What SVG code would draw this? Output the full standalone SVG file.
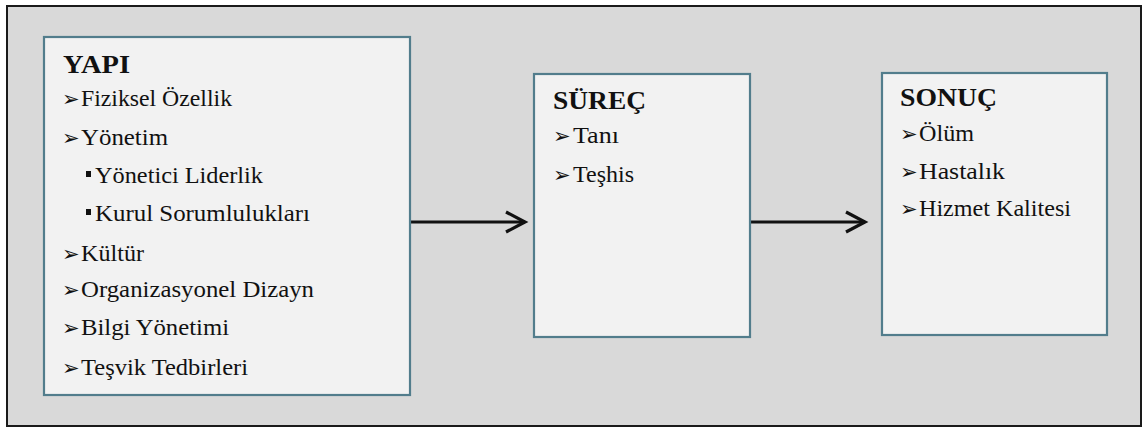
<svg xmlns="http://www.w3.org/2000/svg" width="1145" height="428" viewBox="0 0 1145 428">
  <style>
    .frame { fill: #d9d9d9; stroke: #1a1a1a; stroke-width: 2; }
    .box { fill: #f2f2f2; stroke: #527d8c; stroke-width: 2.2; }
    .head { font-family: "Liberation Serif", "Times New Roman", serif; font-weight: bold; font-size: 26px; fill: #111; }
    .item { font-family: "Liberation Serif", "Times New Roman", serif; font-size: 24px; fill: #111; }
    .arr { font-family: "DejaVu Sans", sans-serif; font-size: 21px; fill: #111; }
    .sq { fill: #111; }
    .conn { stroke: #111; stroke-width: 3; fill: none; }
  </style>
  <defs>
    <marker id="chevron" markerUnits="userSpaceOnUse" markerWidth="26" markerHeight="26" refX="21" refY="12" orient="auto">
      <path d="M2,2 L21,12 L2,22" fill="none" stroke="#111" stroke-width="3.2" stroke-linejoin="miter"/>
    </marker>
  </defs>

  <!-- background panel -->
  <rect x="0" y="0" width="1145" height="428" fill="#ffffff"/>
  <rect class="frame" x="7" y="6" width="1134" height="420"/>

  <!-- connectors -->
  <g id="connectors">
    <line class="conn" x1="410" y1="222" x2="525" y2="222" marker-end="url(#chevron)"/>
    <line class="conn" x1="750" y1="222" x2="865" y2="222" marker-end="url(#chevron)"/>
  </g>

  <!-- structure -->
  <g id="yapi">
    <rect class="box" x="44" y="37" width="366" height="358"/>
    <text class="head" x="63" y="73" textLength="67" lengthAdjust="spacingAndGlyphs">YAPI</text>
    <text class="arr" x="62" y="106">➢</text>
    <text class="item" x="81" y="106" textLength="151" lengthAdjust="spacingAndGlyphs">Fiziksel Özellik</text>
    <text class="arr" x="62" y="145">➢</text>
    <text class="item" x="81" y="145" textLength="87" lengthAdjust="spacingAndGlyphs">Yönetim</text>
    <rect class="sq" x="86" y="171" width="5" height="6"/>
    <text class="item" x="95" y="183" textLength="168" lengthAdjust="spacingAndGlyphs">Yönetici  Liderlik</text>
    <rect class="sq" x="86" y="209" width="5" height="6"/>
    <text class="item" x="95" y="221" textLength="215" lengthAdjust="spacingAndGlyphs">Kurul  Sorumlulukları</text>
    <text class="arr" x="62" y="261">➢</text>
    <text class="item" x="81" y="261" textLength="63" lengthAdjust="spacingAndGlyphs">Kültür</text>
    <text class="arr" x="62" y="297">➢</text>
    <text class="item" x="81" y="297" textLength="233" lengthAdjust="spacingAndGlyphs">Organizasyonel Dizayn</text>
    <text class="arr" x="62" y="335">➢</text>
    <text class="item" x="81" y="335" textLength="148" lengthAdjust="spacingAndGlyphs">Bilgi  Yönetimi</text>
    <text class="arr" x="62" y="375">➢</text>
    <text class="item" x="81" y="375" textLength="167" lengthAdjust="spacingAndGlyphs">Teşvik Tedbirleri</text>
  </g>

  <!-- process -->
  <g id="surec">
    <rect class="box" x="534" y="74" width="216" height="263"/>
    <text class="head" x="553" y="109" textLength="93" lengthAdjust="spacingAndGlyphs">SÜREÇ</text>
    <text class="arr" x="553" y="143">➢</text>
    <text class="item" x="573" y="143" textLength="46" lengthAdjust="spacingAndGlyphs">Tanı</text>
    <text class="arr" x="553" y="182">➢</text>
    <text class="item" x="573" y="182" textLength="61" lengthAdjust="spacingAndGlyphs">Teşhis</text>
  </g>

  <!-- outcome -->
  <g id="sonuc">
    <rect class="box" x="882" y="73" width="225" height="262"/>
    <text class="head" x="900" y="106" textLength="97" lengthAdjust="spacingAndGlyphs">SONUÇ</text>
    <text class="arr" x="900" y="141">➢</text>
    <text class="item" x="919" y="141" textLength="55" lengthAdjust="spacingAndGlyphs">Ölüm</text>
    <text class="arr" x="900" y="179">➢</text>
    <text class="item" x="919" y="179" textLength="86" lengthAdjust="spacingAndGlyphs">Hastalık</text>
    <text class="arr" x="900" y="216">➢</text>
    <text class="item" x="919" y="216" textLength="152" lengthAdjust="spacingAndGlyphs">Hizmet Kalitesi</text>
  </g>
</svg>
